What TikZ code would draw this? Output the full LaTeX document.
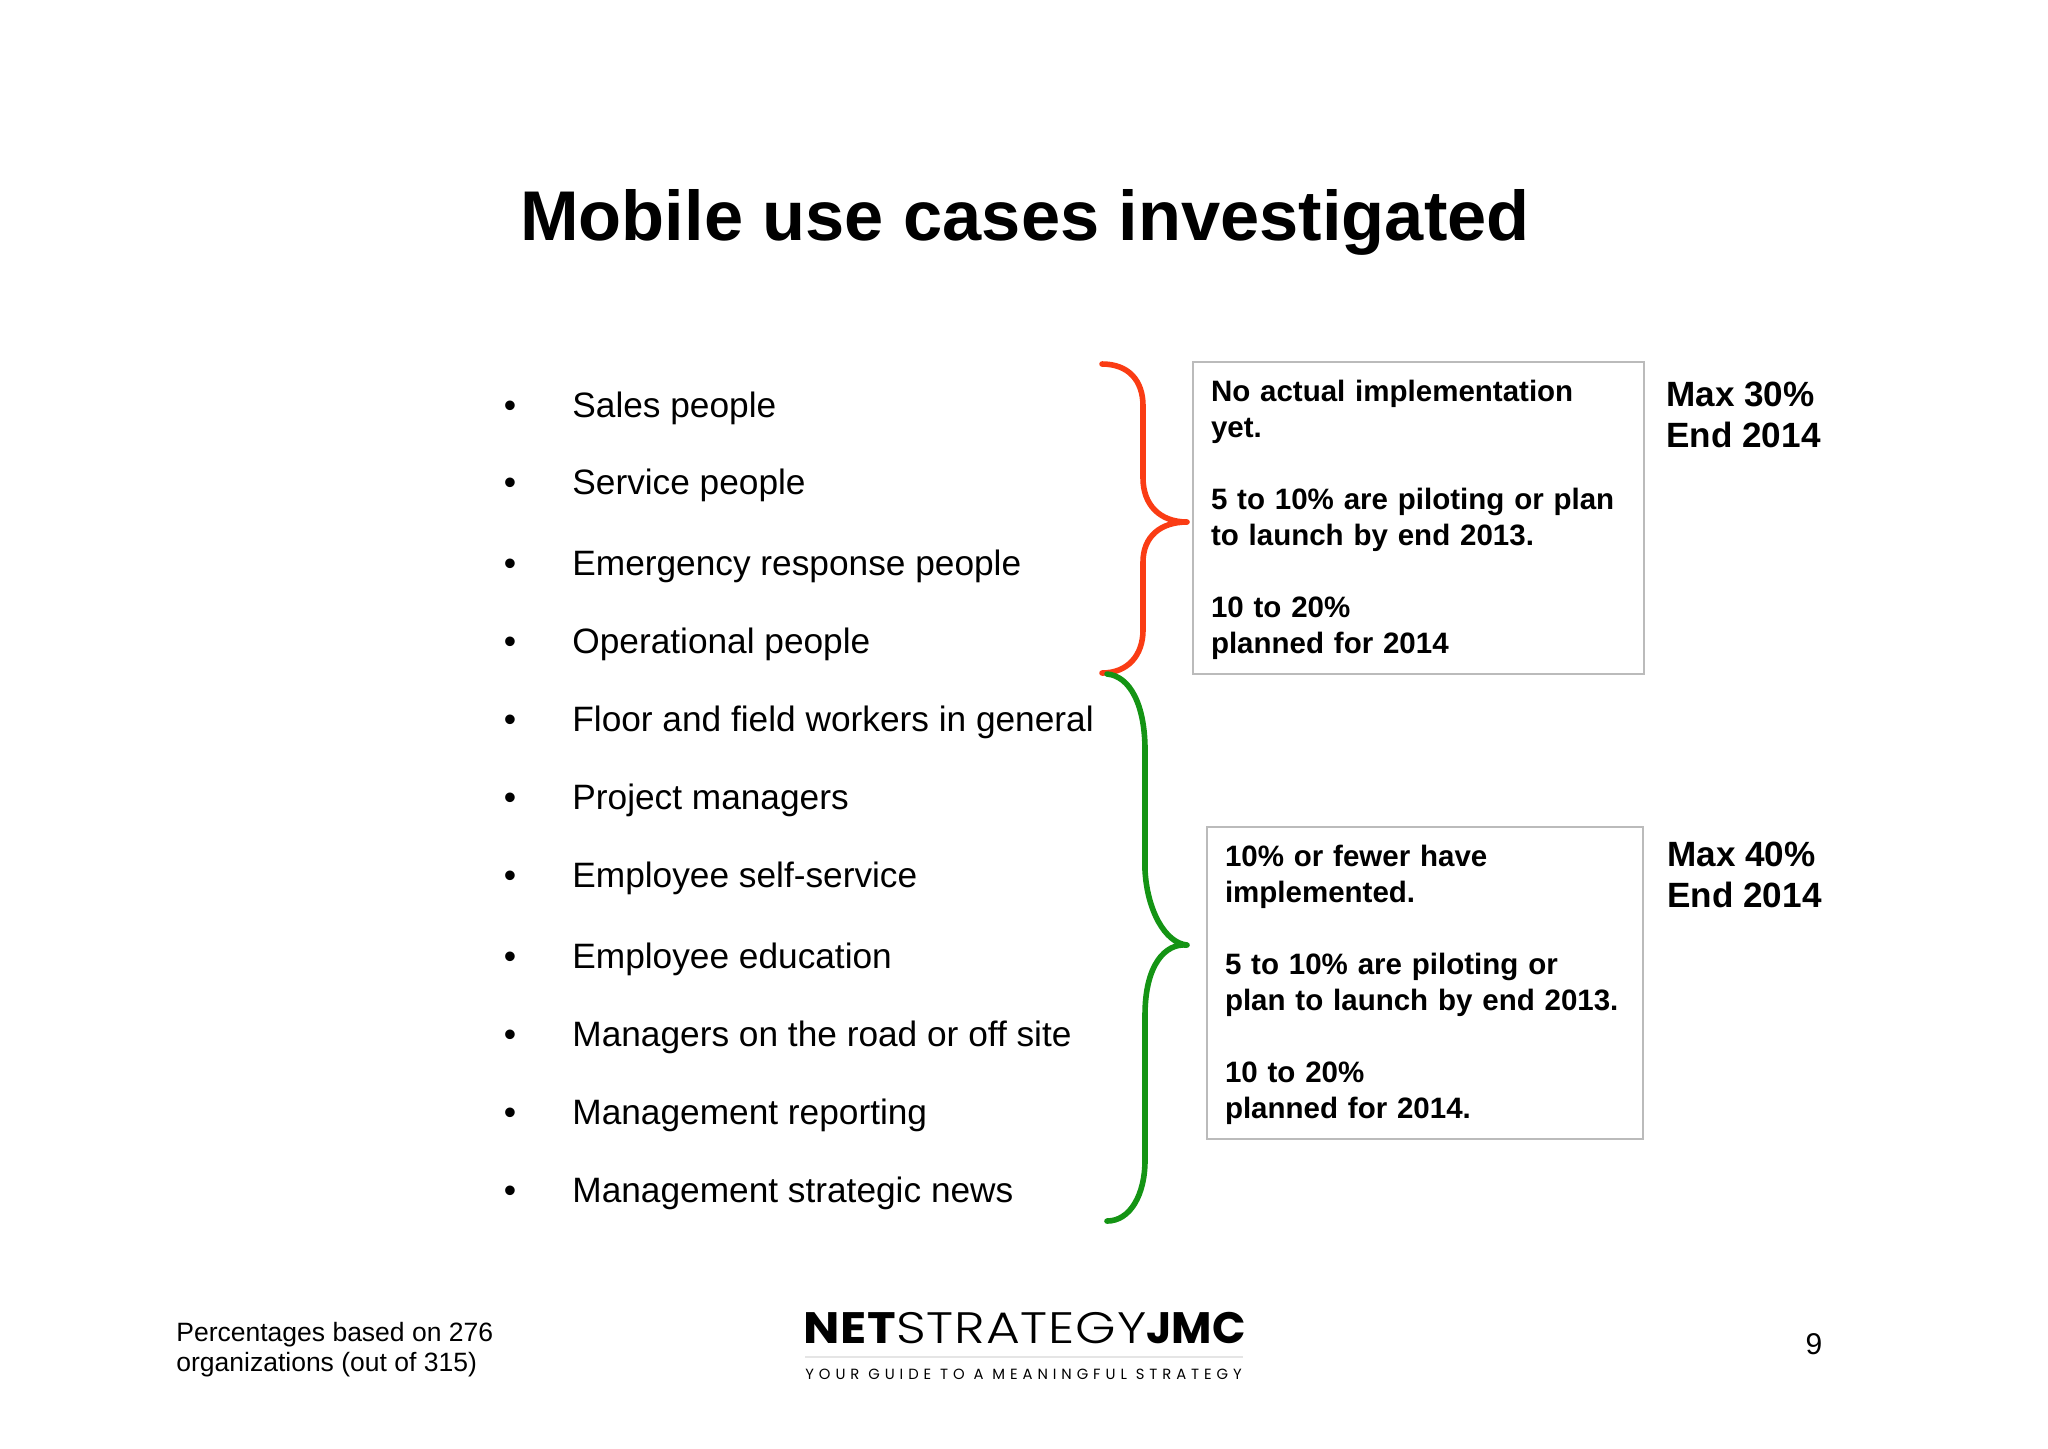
\documentclass[tikz,border=0pt]{standalone}
\usepackage{fontspec}
\setmainfont{Liberation Sans}
\newfontfamily\logobold[FakeStretch=1.1,LetterSpace=2]{Poppins Bold}
\newfontfamily\logolight[FakeStretch=1.18,LetterSpace=2]{Poppins Light}
\newfontfamily\logoend{Poppins Bold}
\newfontfamily\logotag[LetterSpace=33.3]{Poppins}
\usetikzlibrary{positioning}
\definecolor{bracered}{HTML}{FA3C14}
\definecolor{bracegreen}{HTML}{149414}
\definecolor{boxgray}{HTML}{BBBBBB}
\tikzset{
    listitem/.style={anchor=base west,inner sep=0pt,font=\fontsize{17.63pt}{22pt}\selectfont},
    listdot/.style={anchor=base,inner sep=0pt,font=\fontsize{17.63pt}{22pt}\selectfont},
    casebox/.style={draw=boxgray,line width=1pt,anchor=north west,align=left,inner xsep=9pt,inner ysep=0pt,
        execute at begin node={\rule{0pt}{12.5pt}},
        font=\fontsize{14.75pt}{18.05pt}\selectfont\bfseries},
    maxlabel/.style={align=left,inner sep=0pt,font=\fontsize{17.55pt}{20.4pt}\selectfont\bfseries},
    bracepath/.style={line width=2.8pt,line cap=round,line join=round},
}
\begin{document}
\begin{tikzpicture}[x=0.5pt,y=-0.5pt]
        \useasboundingbox (0,0) rectangle (2048,1448);
        \node (title) [inner sep=0pt,font=\fontsize{35.2pt}{40pt}\selectfont\bfseries] at (1025,222) {Mobile use cases investigated};
        % list
        \foreach \y/\t [count=\xi from 1] in {417/Sales people, 494/Service people, 575/Emergency response people,
                                              653/Operational people, 731/Floor and field workers in general,
                                              809/Project managers, 887/Employee self-service, 968/Employee education,
                                              1046/Managers on the road or off site, 1124/Management reporting,
                                              1202/Management strategic news}
        {
            \node (dot\xi) [listdot] at (510,\y) {\textbullet};
            \node (item\xi) [listitem] at (572,\y) {\t};
        }
        % boxes
        \node (redbox) [casebox,text width=207.5pt,minimum height=156pt] at (1192,361)
            {No actual implementation\\yet.\\[18.05pt]5 to 10\% are piloting or plan\\to launch by end 2013.\\[18.05pt]10 to 20\%\\planned for 2014};
        \node (greenbox) [casebox,text width=200pt,minimum height=156pt] at (1206,826)
            {10\% or fewer have\\implemented.\\[18.05pt]5 to 10\% are piloting or\\plan to launch by end 2013.\\[18.05pt]10 to 20\%\\planned for 2014.};
        % max
        \node (redmax) [maxlabel,below right=10.2pt and 10.5pt of redbox.north east] {Max 30\%\\End 2014};
        \node (greenmax) [maxlabel,below right=8pt and 11.5pt of greenbox.north east] {Max 40\%\\End 2014};
        % braces
        \coordinate (r1) at (1102,364);
        \coordinate (rtip) at (1187,522);
        \coordinate (r2) at (1102,673);
        \draw[bracepath,bracered] (r1) .. controls (1128,364) and (1143,380) .. (1143,406)
            -- (1143,478) .. controls (1143,505) and (1160,522) .. (rtip)
            .. controls (1160,522) and (1143,537) .. (1143,562)
            -- (1143,630) .. controls (1143,655) and (1128,673) .. (r2);
        \coordinate (g1) at (1107,674);
        \coordinate (gtip) at (1187,945);
        \coordinate (g2) at (1107,1221);
        \draw[bracepath,bracegreen] (g1) .. controls (1130,676) and (1145,705) .. (1145,750)
            -- (1145,870) .. controls (1147,910) and (1165,943) .. (gtip)
            .. controls (1165,943) and (1145,965) .. (1145,1015)
            -- (1145,1160) .. controls (1145,1195) and (1130,1221) .. (g2);
        % foot
        \node (note) [anchor=base west,align=left,inner sep=0pt,font=\fontsize{13.25pt}{15pt}\selectfont] at (176,1371)
            {Percentages based on 276\\organizations (out of 315)};
        \node (page) [inner sep=0pt,font=\fontsize{15pt}{18pt}\selectfont] at (1814,1344) {9};
        % logo
        \node (logo) [anchor=base west,inner sep=0pt,font=\fontsize{22pt}{24pt}\selectfont] at (803,1343)
            {{\logobold NET}{\logolight STRATEGY}{\logoend JMC}};
        \coordinate (l1) at (805,1357);
        \coordinate (l2) at (1243,1357);
        \draw[black!10,line width=1pt] (l1) -- (l2);
        \node (tagline) [anchor=base west,inner sep=0pt,font=\fontsize{7.4pt}{9pt}\selectfont\logotag] at (805,1379)
            {YOUR GUIDE TO A MEANINGFUL STRATEGY};
\end{tikzpicture}
\end{document}
